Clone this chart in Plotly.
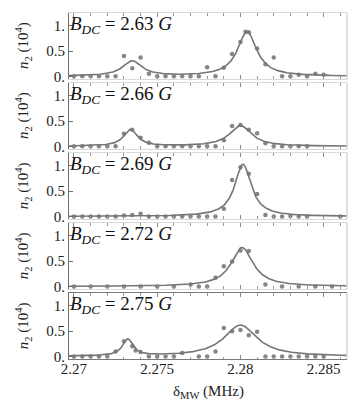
import plotly.graph_objects as go
from plotly.subplots import make_subplots
import numpy as np

# ---------------- data ----------------
field_labels = ["2.63", "2.66", "2.69", "2.72", "2.75"]

p1_x = [2.2700, 2.2705, 2.2710, 2.2715, 2.2720, 2.2725, 2.2730, 2.2735, 2.2740, 2.2745,
        2.2750, 2.2755, 2.2760, 2.2765, 2.2770, 2.2775, 2.2780, 2.2785, 2.2790, 2.2795,
        2.2800, 2.2803, 2.2805, 2.2810, 2.2815, 2.2820, 2.2825, 2.2830, 2.2835, 2.2840,
        2.2845, 2.2850]
p1_y = [0, 0, 0, 0, 0, 0, 0.40, 0.16, 0.37, 0.05,
        0, 0, 0, 0, 0, 0, 0.18, 0, 0.17, 0.44,
        0.68, 0.88, 0.87, 0.55, 0.24, 0.37, 0, 0, 0.03, 0,
        0.05, 0.03]

p2_x = [2.2700, 2.2705, 2.2710, 2.2715, 2.2720, 2.2725, 2.2730, 2.2735, 2.2740, 2.2745,
        2.2750, 2.2755, 2.2760, 2.2765, 2.2770, 2.2775, 2.2780, 2.2785, 2.2790, 2.2795,
        2.2800, 2.2805, 2.2810, 2.2815, 2.2820, 2.2825, 2.2830, 2.2835, 2.2840]
p2_y = [0, 0, 0, 0, 0, 0, 0.25, 0.33, 0.17, 0.07,
        0, 0, 0, 0, 0, 0, 0, 0, 0.12, 0.40,
        0.42, 0.33, 0.26, 0.06, 0, 0, 0, 0, 0]

p3_x = [2.2700, 2.2705, 2.2710, 2.2715, 2.2720, 2.2725, 2.2730, 2.2735, 2.2740, 2.2745,
        2.2750, 2.2755, 2.2760, 2.2765, 2.2770, 2.2775, 2.2780, 2.2785, 2.2790, 2.2795,
        2.2800, 2.2805, 2.2810, 2.2815, 2.2820, 2.2825, 2.2830, 2.2835, 2.2840, 2.2860]
p3_y = [0, 0, 0, 0, 0, 0, 0.02, 0.03, 0.05, 0,
        0, 0, 0, 0, 0, 0, 0, 0, 0.15, 0.72,
        0.97, 0.84, 0.44, 0.03, 0, 0, 0.01, 0, 0, 0]

p4_x = [2.2700, 2.2710, 2.2720, 2.2730, 2.2740, 2.2750, 2.2760, 2.2770, 2.2775, 2.2780,
        2.2785, 2.2790, 2.2795, 2.2800, 2.2805, 2.2815, 2.2825, 2.2835, 2.2845, 2.2855]
p4_y = [0, 0, 0, 0, 0, 0, 0, 0.04, 0, 0,
        0.17, 0.40, 0.49, 0.71, 0.70, 0.04, 0, 0, 0, 0]

p5_x = [2.2700, 2.2705, 2.2710, 2.2715, 2.2720, 2.2725, 2.2730, 2.2735, 2.2737, 2.2740,
        2.2745, 2.2750, 2.2755, 2.2760, 2.2765, 2.2775, 2.2780, 2.2785, 2.2790, 2.2795,
        2.2800, 2.2805, 2.2810, 2.2815, 2.2820, 2.2825, 2.2830, 2.2835, 2.2840, 2.2845,
        2.2850]
p5_y = [0, 0, 0, 0, 0, 0.10, 0.30, 0.20, 0.12, 0.09,
        0, 0, 0, 0, 0.07, 0, 0, 0.10, 0.56, 0.50,
        0.52, 0.42, 0.49, 0, 0, 0, 0, 0, 0, 0,
        0]

# Lorentzian fit parameters (centre, height, half width)
fit_centres = [[2.2735, 2.2804], [2.2734, 2.2800], [2.28015], [2.2801], [2.27323, 2.2800]]
fit_heights = [[0.30, 0.88], [0.33, 0.41], [1.03], [0.77], [0.33, 0.62]]
fit_widths = [[0.0007, 0.0007], [0.0005, 0.0008], [0.0006], [0.0008], [0.00038, 0.0012]]

x_tick_vals = [2.27, 2.275, 2.28, 2.285]
x_tick_text = ["2.27", "2.275", "2.28", "2.285"]
y_tick_vals = [0, 0.5, 1]
y_tick_text = ["0.", "0.5", "1."]

# ---------------- figure ----------------
xs_all = [p1_x, p2_x, p3_x, p4_x, p5_x]
ys_all = [p1_y, p2_y, p3_y, p4_y, p5_y]

XRANGE = [2.2697, 2.2864]
YRANGE = [-0.05, 1.25]
FONT = "Liberation Serif, Tinos, 'Times New Roman', DejaVu Serif, serif"
PT = "#868686"
LN = "#757575"

fig = make_subplots(rows=5, cols=1, shared_xaxes=True, vertical_spacing=0.012)

xfit = np.linspace(XRANGE[0], XRANGE[1], 600)
for i in range(5):
    yfit = np.zeros_like(xfit)
    for c, h, w in zip(fit_centres[i], fit_heights[i], fit_widths[i]):
        yfit += h / (1 + ((xfit - c) / w) ** 2)
    fig.add_trace(go.Scatter(x=xs_all[i], y=ys_all[i], mode="markers",
                             marker=dict(color=PT, size=4.5), showlegend=False),
                  row=i + 1, col=1)
    fig.add_trace(go.Scatter(x=xfit, y=yfit, mode="lines",
                             line=dict(color=LN, width=1.6), showlegend=False),
                  row=i + 1, col=1)

for i in range(5):
    r = i + 1
    last = (r == 5)
    fig.update_xaxes(row=r, col=1, range=XRANGE, showgrid=False, zeroline=False,
                     showline=True, linecolor="#7a7a7a" if last else "#d8d8d8", linewidth=1,
                     mirror="ticks", ticks="inside", ticklen=4, tickcolor="#8a8a8a",
                     tickvals=x_tick_vals, ticktext=x_tick_text,
                     showticklabels=last, ticklabelstandoff=-4,
                     tickfont=dict(family=FONT, size=15, color="#222"),
                     minor=dict(ticks="inside", dtick=0.001, tick0=2.27, ticklen=2.5,
                                tickcolor="#9a9a9a"))
    fig.update_yaxes(row=r, col=1, range=YRANGE, showgrid=False, zeroline=False,
                     showline=True, linecolor="#6e6e6e", linewidth=1,
                     ticks="inside", ticklen=4, tickcolor="#6e6e6e",
                     tickvals=y_tick_vals, ticktext=y_tick_text,
                     tickfont=dict(family=FONT, size=15, color="#222"))
    ax = "" if r == 1 else str(r)
    # right frame (light)
    fig.add_shape(type="line", xref=f"x{ax} domain", yref=f"y{ax} domain",
                  x0=1, x1=1, y0=0, y1=1, line=dict(color="#d4d4d4", width=1.5))
    # field label
    fig.add_annotation(xref=f"x{ax} domain", yref=f"y{ax} domain", x=-0.005, y=0.82,
                       xanchor="left", yanchor="middle", showarrow=False,
                       text=f"<i>B</i><sub><i>DC</i></sub> = {field_labels[i]} <i>G</i>",
                       font=dict(family=FONT, size=19, color="#111"))
    # y-axis title
    fig.add_annotation(xref="paper", yref=f"y{ax} domain", x=-0.165, y=0.5,
                       xanchor="center", yanchor="middle", showarrow=False, textangle=-90,
                       text="<i>n</i><sub>2</sub> (10<sup>4</sup>)",
                       font=dict(family=FONT, size=15, color="#222"))

fig.add_annotation(xref="paper", yref="paper", x=0.5, y=-0.095, xanchor="center",
                   yanchor="middle", showarrow=False,
                   text="δ<sub>MW</sub> (MHz)", font=dict(family=FONT, size=15, color="#222"))

fig.update_layout(width=357, height=402, margin=dict(l=61, r=18, t=5, b=51),
                  paper_bgcolor="white", plot_bgcolor="white")

fig.write_html("out.html")
